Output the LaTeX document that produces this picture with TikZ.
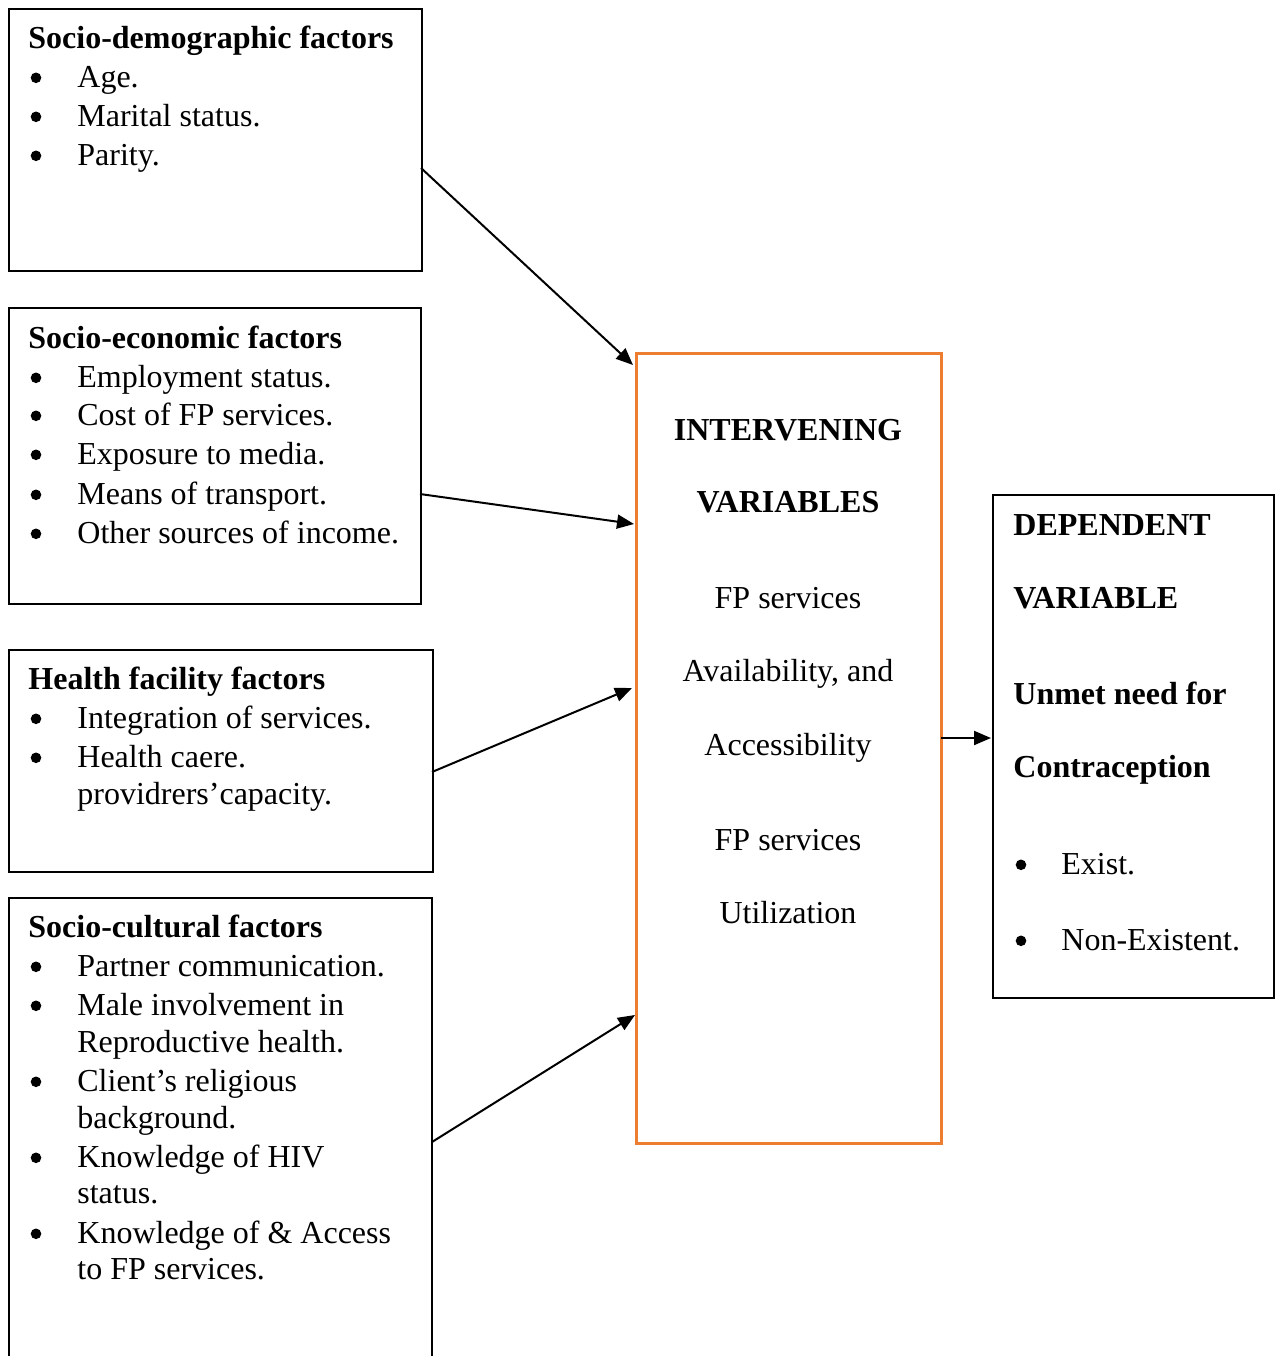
\documentclass[tikz,border=0pt]{standalone}
\usepackage{fontspec}
\setmainfont{Liberation Serif}
\usetikzlibrary{arrows.meta}
\definecolor{boxorange}{HTML}{ED7D31}
\newcommand{\fs}{\fontsize{16}{19.5}\selectfont}
\tikzset{
  box/.style={draw=black, line width=1pt, anchor=north west, inner sep=0pt},
  ibox/.style={draw=boxorange, line width=1.3pt, anchor=north west, inner sep=0pt},
  txt/.style={anchor=base west, inner sep=0pt, font=\fs},
  ctxt/.style={anchor=base, inner sep=0pt, font=\fs},
  hd/.style={anchor=base west, inner sep=0pt, font=\fs\bfseries},
  chd/.style={anchor=base, inner sep=0pt, font=\fs\bfseries},
  bul/.style={circle, fill=black, inner sep=0pt, minimum size=5.3pt, yshift=4.6pt},
  conn/.style={line width=1pt, -{Triangle[length=8.5pt,width=7pt]}}
}
\begin{document}
\begin{tikzpicture}[x=0.5pt,y=-0.5pt]
\clip (0,0) rectangle (1278,1356);
\fill[white] (0,0) rectangle (1278,1356);
% boxes
\node[box, minimum width=206.5pt, minimum height=131pt] (b1) at (8,8) {};
\node[box, minimum width=206pt, minimum height=148pt] (b2) at (8,307) {};
\node[box, minimum width=212pt, minimum height=111pt] (b3) at (8,649) {};
\node[box, minimum width=211.5pt, minimum height=260pt] (b4) at (8,897) {};
\node[ibox, minimum width=152.5pt, minimum height=395pt] (iv) at (635,352) {};
\node[box, minimum width=140.5pt, minimum height=251.5pt] (dv) at (992,494) {};
% box 1
\node[hd] (t1) at (28,48) {Socio-demographic factors};
\node[bul] (b1a) at (36,87) {}; \node[txt] (i1a) at (77,87) {Age.};
\node[bul] (b1b) at (36,126) {}; \node[txt] (i1b) at (77,126) {Marital status.};
\node[bul] (b1c) at (36,165) {}; \node[txt] (i1c) at (77,165) {Parity.};
% box 2
\node[hd] (t2) at (28,348) {Socio-economic factors};
\node[bul] (b2a) at (36,387) {}; \node[txt] (i2a) at (77,387) {Employment status.};
\node[bul] (b2b) at (36,425) {}; \node[txt] (i2b) at (77,425) {Cost of FP services.};
\node[bul] (b2c) at (36,464) {}; \node[txt] (i2c) at (77,464) {Exposure to media.};
\node[bul] (b2d) at (36,504) {}; \node[txt] (i2d) at (77,504) {Means of transport.};
\node[bul] (b2e) at (36,543) {}; \node[txt] (i2e) at (77,543) {Other sources of income.};
% box 3
\node[hd] (t3) at (28,689) {Health facility factors};
\node[bul] (b3a) at (36,728) {}; \node[txt] (i3a) at (77,728) {Integration of services.};
\node[bul] (b3b) at (36,767) {}; \node[txt] (i3b) at (77,767) {Health caere.};
\node[txt] (i3c) at (77,804) {providrers’capacity.};
% box 4
\node[hd] (t4) at (28,937) {Socio-cultural factors};
\node[bul] (b4a) at (36,976) {}; \node[txt] (i4a) at (77,976) {Partner communication.};
\node[bul] (b4b) at (36,1015) {}; \node[txt] (i4b) at (77,1015) {Male involvement in};
\node[txt] (i4c) at (77,1052) {Reproductive health.};
\node[bul] (b4d) at (36,1091) {}; \node[txt] (i4d) at (77,1091) {Client’s religious};
\node[txt] (i4e) at (77,1128) {background.};
\node[bul] (b4f) at (36,1167) {}; \node[txt] (i4f) at (77,1167) {Knowledge of HIV};
\node[txt] (i4g) at (77,1203) {status.};
\node[bul] (b4h) at (36,1243) {}; \node[txt] (i4h) at (77,1243) {Knowledge of \& Access};
\node[txt] (i4i) at (77,1279) {to FP services.};
% intervening
\node[chd] (v1) at (788,440) {INTERVENING};
\node[chd] (v2) at (788,512) {VARIABLES};
\node[ctxt] (v3) at (788,608) {FP services};
\node[ctxt] (v4) at (788,681) {Availability, and};
\node[ctxt] (v5) at (788,755) {Accessibility};
\node[ctxt] (v6) at (788,850) {FP services};
\node[ctxt] (v7) at (788,923) {Utilization};
% dependent
\node[hd] (d1) at (1013,535) {DEPENDENT};
\node[hd] (d2) at (1013,608) {VARIABLE};
\node[hd] (d3) at (1013,704) {Unmet need for};
\node[hd] (d4) at (1013,777) {Contraception};
\node[bul] (db1) at (1021,874) {}; \node[txt] (d5) at (1061,874) {Exist.};
\node[bul] (db2) at (1021,950) {}; \node[txt] (d6) at (1061,950) {Non-Existent.};
% connectors
\coordinate (s1) at (421,168); \coordinate (e1) at (633,365);
\coordinate (s2) at (420,494); \coordinate (e2) at (634,524);
\coordinate (s3) at (432,772); \coordinate (e3) at (632,688);
\coordinate (s4) at (432,1142); \coordinate (e4) at (635,1015);
\coordinate (s5) at (941,738); \coordinate (e5) at (991,738);
\draw[conn] (s1) -- (e1);
\draw[conn] (s2) -- (e2);
\draw[conn] (s3) -- (e3);
\draw[conn] (s4) -- (e4);
\draw[conn] (s5) -- (e5);
\end{tikzpicture}
\end{document}
